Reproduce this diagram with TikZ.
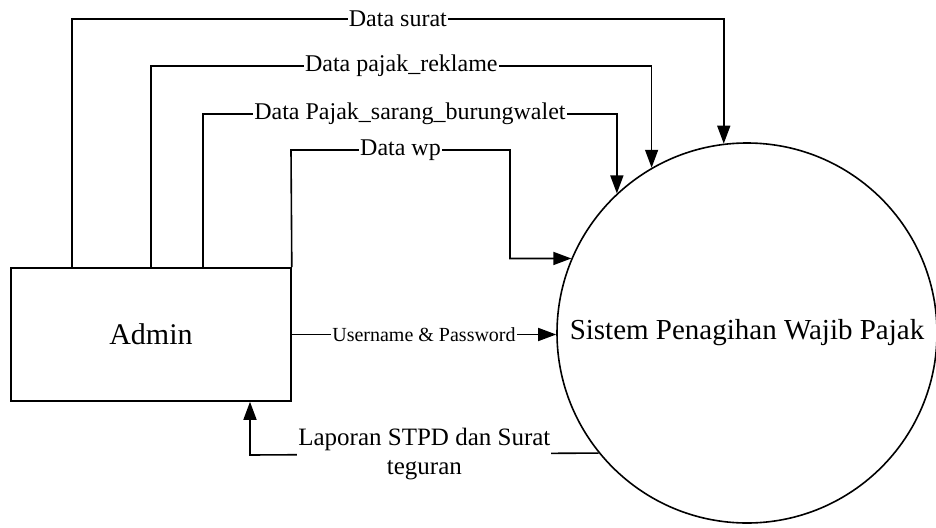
\documentclass[tikz,border=0pt]{standalone}
\usepackage{fontspec}
\setmainfont{Liberation Serif}
\usetikzlibrary{arrows.meta}
\begin{document}
\begin{tikzpicture}[x=1pt,y=-1pt,
  line/.style={line width=1.6pt},
  flow/.style={line width=1.6pt, -{Triangle[length=18pt,width=13pt]}},
  lbl/.style={fill=white, inner xsep=1pt, inner ysep=0pt, font=\fontsize{24}{28}\selectfont},
  slbl/.style={fill=white, inner xsep=1pt, inner ysep=0pt, font=\fontsize{20}{24}\selectfont},
  blbl/.style={fill=white, inner xsep=1pt, inner ysep=0pt, align=center, font=\fontsize{25}{29}\selectfont},
  entity/.style={draw, line width=1.6pt, minimum width=280pt, minimum height=133pt, inner sep=0pt, font=\fontsize{30}{34}\selectfont},
  process/.style={circle, draw, line width=1.6pt, minimum size=380pt, inner sep=0pt, font=\fontsize{29}{34}\selectfont}]
\useasboundingbox (0,0) rectangle (936,527);
\node[entity] (admin) at (151,334.5) {Admin};
\node[process] (sys) at (747,333) {Sistem Penagihan Wajib Pajak};
% bends
\coordinate (s1) at (72,19);
\coordinate (r1) at (151,66);
\coordinate (b1) at (203,114);
\coordinate (w1) at (291,150);
\coordinate (w2) at (510,150);
\coordinate (l1) at (250,455);
% Data surat
\draw[flow] (admin.north -| s1) -- (s1) -- node[lbl]{Data surat} (s1 -| sys.97.3) -- (sys.97.3);
% Data pajak_reklame
\draw[flow] (admin.north -| r1) -- (r1) -- node[lbl]{Data pajak\_reklame} (r1 -| sys.120) -- (sys.120);
% Data Pajak_sarang_burungwalet
\draw[flow] (admin.north -| b1) -- (b1) -- node[lbl]{Data Pajak\_sarang\_burungwalet} (b1 -| sys.133.2) -- (sys.133.2);
% Data wp
\draw[flow] (admin.north east) -- (w1) -- node[lbl]{Data wp} (w2) -- (w2 |- sys.157.7) -- (sys.157.7);
% Username & Password
\draw[flow] (admin.east) -- node[slbl]{Username \& Password} (admin.east -| sys.west);
% Laporan
\draw[flow] (sys.219.95) -- node[blbl]{Laporan STPD dan Surat\\teguran} (l1) -- (l1 |- admin.south);
\end{tikzpicture}
\end{document}
